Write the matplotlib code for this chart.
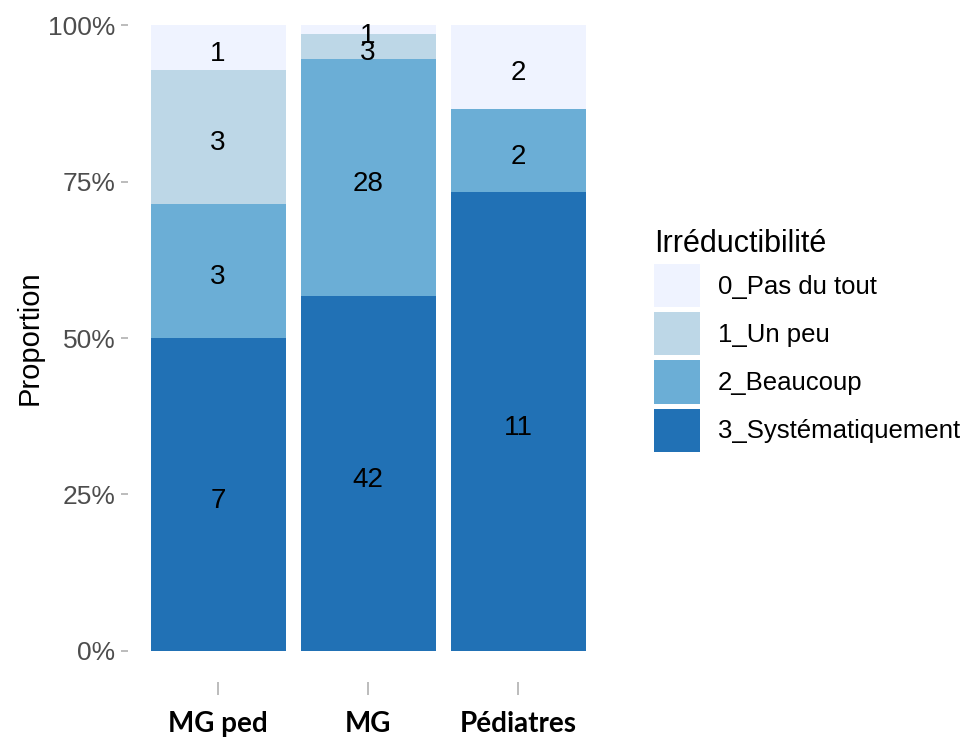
import numpy as np
import matplotlib.pyplot as plt
from matplotlib.patches import Patch
from matplotlib.ticker import PercentFormatter

# Données
groupes = ['MG ped', 'MG', 'Pédiatres']
niveaux = ['0_Pas du tout', '1_Un peu', '2_Beaucoup', '3_Systématiquement']
n_pas_du_tout = [1, 1, 2]
n_un_peu = [3, 3, 0]
n_beaucoup = [3, 28, 2]
n_systematique = [7, 42, 11]
couleurs = ['#EFF3FF', '#BDD7E7', '#6BAED6', '#2171B5']

plt.rcParams['font.family'] = ['Liberation Sans', 'DejaVu Sans']

comptes = np.array([n_pas_du_tout, n_un_peu, n_beaucoup, n_systematique], dtype=float)
totaux = comptes.sum(axis=0)
props = comptes / totaux

fig = plt.figure(figsize=(9.68, 7.38), dpi=100)
ax = fig.add_axes([128 / 968, (738 - 682) / 738, 480 / 968, 688 / 738])

x = np.arange(1, len(groupes) + 1)
# empilement : 3_Systématiquement en bas
bas = np.zeros(len(groupes))
for i in [3, 2, 1, 0]:
    ax.bar(x, props[i], bottom=bas, width=0.9, color=couleurs[i], edgecolor='none')
    for j in range(len(groupes)):
        if comptes[i, j] > 0:
            ax.annotate(f"{comptes[i, j]:.0f}", (x[j], bas[j] + props[i, j] / 2),
                        xytext=(0, -2.5), textcoords='offset points',
                        ha='center', va='center_baseline', fontsize=20, color='black')
    bas = bas + props[i]

ax.set_xlim(0.4, 3.6)
ax.set_ylim(-0.05, 1.05)
ax.set_yticks([0, 0.25, 0.5, 0.75, 1.0])
ax.yaxis.set_major_formatter(PercentFormatter(1.0, decimals=0))
ax.set_xticks(x)
ax.set_xticklabels(groupes, fontsize=20, fontweight='bold', family='Lato', color='black')
ax.tick_params(axis='y', labelsize=19, labelcolor='#4D4D4D', color='#B0B0B0', length=5, width=1.2, pad=4)
ax.tick_params(axis='x', color='#B0B0B0', length=9, width=1.2, pad=12)
for s in ax.spines.values():
    s.set_visible(False)
ax.set_ylabel('Proportion', fontsize=21)
ax.yaxis.set_label_coords(-0.175, 0.5)

poignees = [Patch(facecolor=c, edgecolor='none') for c in couleurs]
leg = fig.legend(poignees, niveaux, title='Irréductibilité', loc='upper left',
                 bbox_to_anchor=(654 / 968, (738 - 229) / 738), frameon=False,
                 fontsize=18.5, title_fontsize=22, handlelength=1.79, handleheight=2.2,
                 handletextpad=0.7, labelspacing=0.2, borderpad=0, borderaxespad=0,
                 alignment='left')

fig.savefig('out.png', dpi=100)
